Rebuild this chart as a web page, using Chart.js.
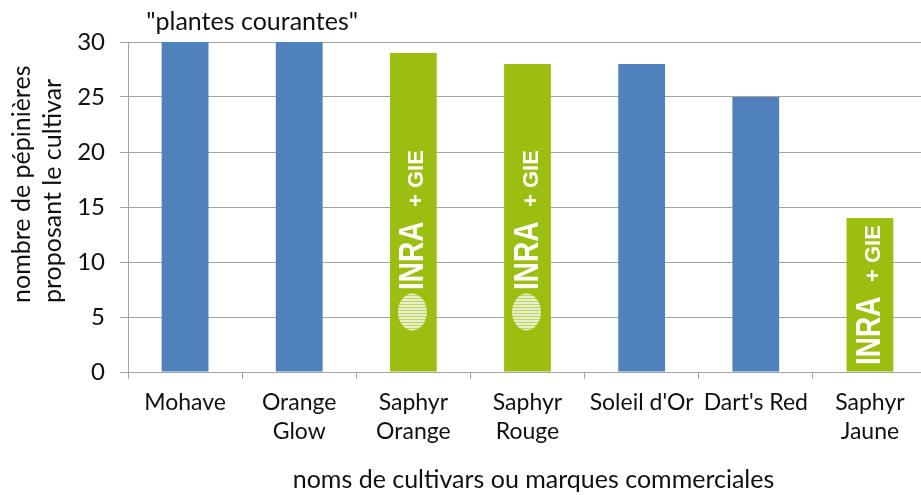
<!DOCTYPE html>
<html lang="fr">
<head>
  <meta charset="UTF-8" />
  <title>Pépinières par cultivar</title>
  <script src="https://cdn.jsdelivr.net/npm/chart.js"></script>
  <style>
    html, body {
      margin: 0;
      padding: 0;
      background: #fff;
      overflow: hidden;
    }
    /* un peu plus large que la fenêtre : le graphique d'origine est coupé à droite */
    #wrap {
      position: relative;
      width: 930px;
      height: 495px;
    }
  </style>
</head>
<body>

<div id="wrap"><canvas id="myChart"></canvas></div>

<script>
  const cultivars = ['Mohave', ['Orange', 'Glow'], ['Saphyr', 'Orange'], ['Saphyr', 'Rouge'], "Soleil d'Or", "Dart's Red", ['Saphyr', 'Jaune']];
  const pepinieres = [30, 30, 29, 28, 28, 25, 14];
  const obtenteur = ['autre', 'autre', 'inra', 'inra', 'autre', 'autre', 'inra'];
  const yTicks = [0, 5, 10, 15, 20, 25, 30];

  const FONT = 'Lato';
  const TEXT = '#111';
  const GRID = '#a3a3a3';
  const BLEU = '#4f81bd';
  const VERT = '#9cbe10';

  function drawOval(ctx, cx, cy) {
    ctx.save();
    ctx.beginPath();
    ctx.ellipse(cx, cy, 14.5, 18.5, 0, 0, Math.PI * 2);
    ctx.fillStyle = 'rgba(255,255,255,0.35)';
    ctx.fill();
    ctx.clip();
    ctx.strokeStyle = 'rgba(255,255,255,0.85)';
    ctx.lineWidth = 1.3;
    for (let y = cy - 18; y <= cy + 18; y += 3) {
      ctx.beginPath();
      ctx.moveTo(cx - 15, y);
      ctx.lineTo(cx + 15, y);
      ctx.stroke();
    }
    ctx.restore();
  }

  const decor = {
    id: 'decor',
    afterDatasetsDraw(chart) {
      const { ctx, chartArea, scales } = chart;
      const meta = chart.getDatasetMeta(0);
      const base = scales.y.getPixelForValue(0);

      // logos INRA + GIE sur les barres vertes
      meta.data.forEach((bar, i) => {
        if (obtenteur[i] !== 'inra') return;
        let y0 = base - 7;
        if (pepinieres[i] >= 20) {
          drawOval(ctx, bar.x - 1, base - 60);
          y0 = base - 82;
        }
        ctx.save();
        ctx.fillStyle = '#fff';
        ctx.textAlign = 'left';
        ctx.textBaseline = 'alphabetic';
        ctx.translate(bar.x + 10, y0);
        ctx.rotate(-Math.PI / 2);
        ctx.save();
        ctx.scale(0.8, 1);
        ctx.font = 'bold 35px "Liberation Sans"';
        ctx.fillText('INRA', 0, 0);
        ctx.restore();
        ctx.font = 'bold 22px "Liberation Sans"';
        ctx.fillText('+ GIE', 83, 0);
        ctx.restore();
      });

      ctx.save();
      ctx.fillStyle = TEXT;
      ctx.font = '25px ' + FONT;

      // étiquette au-dessus des deux premières barres
      ctx.textAlign = 'center';
      ctx.textBaseline = 'alphabetic';
      ctx.fillText('"plantes courantes"', (meta.data[0].x + meta.data[1].x) / 2 + 10, 30);

      // titre de l'axe x
      ctx.textBaseline = 'middle';
      ctx.fillText('noms de cultivars ou marques commerciales', (chartArea.left + chartArea.right) / 2 + 6, 480);

      // titre de l'axe y, deux lignes alignées en bas
      ctx.textAlign = 'left';
      ctx.translate(0, 303);
      ctx.rotate(-Math.PI / 2);
      ctx.fillText('nombre de pépinières', 0, 22);
      ctx.fillText('proposant le cultivar', 0, 53);
      ctx.restore();
    }
  };

  new Chart(document.getElementById('myChart'), {
    type: 'bar',
    data: {
      labels: cultivars,
      datasets: [{
        data: pepinieres,
        backgroundColor: obtenteur.map(o => o === 'inra' ? VERT : BLEU),
        borderWidth: 0,
        barPercentage: 0.41,
        categoryPercentage: 1
      }]
    },
    options: {
      responsive: true,
      maintainAspectRatio: false,
      animation: false,
      layout: { padding: { top: 42, right: 3, bottom: 0, left: 0 } },
      plugins: {
        legend: { display: false },
        tooltip: { enabled: false }
      },
      scales: {
        x: {
          afterFit: s => { s.height = 123; },
          grid: {
            offset: true,
            drawOnChartArea: false,
            tickLength: 7,
            color: GRID
          },
          border: { color: GRID },
          ticks: {
            color: TEXT,
            padding: 9,
            maxRotation: 0,
            font: { family: FONT, size: 23, lineHeight: 1.27 }
          }
        },
        y: {
          min: 0,
          max: 30,
          afterFit: s => { s.width = 128; },
          afterBuildTicks: s => { s.ticks = yTicks.map(v => ({ value: v })); },
          grid: { color: GRID, tickLength: 8 },
          border: { color: GRID },
          ticks: {
            color: TEXT,
            padding: 15,
            font: { family: FONT, size: 24 }
          }
        }
      }
    },
    plugins: [decor]
  });
</script>
</body>
</html>
